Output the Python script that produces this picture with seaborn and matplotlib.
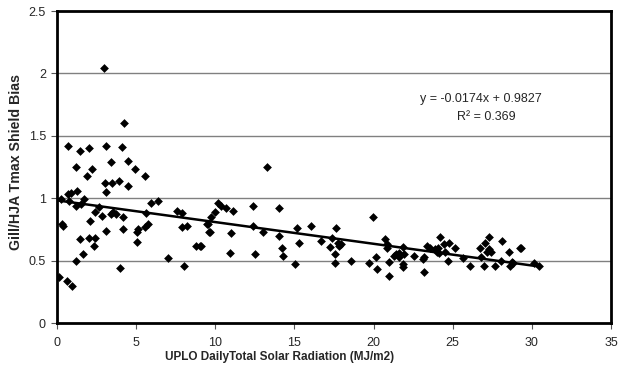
import matplotlib
matplotlib.use("Agg")
import matplotlib.pyplot as plt
import seaborn as sns
import numpy as np
import pandas as pd

# Data
solar = [
    2.99, 4.23, 0.70, 1.45, 2.02, 3.07, 4.10, 1.20, 3.43, 4.46, 2.19, 1.92, 4.95, 5.56,
    3.03, 3.50, 3.94, 4.48, 3.11, 0.67, 0.90, 1.24, 0.27, 0.78, 1.20, 1.54, 1.73, 5.94,
    6.36, 2.42, 2.65, 2.84, 3.41, 3.56, 3.75, 4.17, 5.64, 0.34, 0.40, 2.10, 5.73, 5.54,
    5.14, 5.03, 3.10, 4.17, 7.58, 7.90, 7.87, 8.21, 1.43, 2.02, 2.40, 2.31, 5.05, 1.62,
    1.20, 8.78, 9.08, 7.03, 8.00, 3.96, 0.10, 0.65, 0.95, 9.50, 9.60,
    13.25, 10.19, 10.36, 10.66, 9.98, 11.14, 12.40, 14.02, 9.73, 9.56, 9.64, 9.03, 11.01,
    12.40, 13.03, 14.02, 14.23, 14.30, 10.95, 12.53, 15.18, 15.30, 15.01, 16.05, 16.70,
    17.64, 17.39, 17.27, 17.73, 17.83, 17.94, 17.56, 17.58, 18.60,
    19.94, 19.71, 20.13, 20.19, 20.74, 20.83, 20.83, 20.95, 20.99, 21.27, 21.39, 21.62,
    21.60, 21.84, 21.88, 21.88, 21.92, 22.55, 23.10, 23.18, 23.18, 23.39, 23.56, 23.88,
    24.02, 24.15, 24.09, 24.21, 24.45, 24.74, 24.53, 24.68, 25.14, 25.67, 26.09, 26.70,
    27.02, 27.31, 26.78, 26.97, 27.18, 27.31, 27.42, 27.65, 28.13, 28.05, 28.53, 28.74,
    28.64, 28.83, 29.25, 29.33, 30.13, 30.47,
]
bias = [
    2.04, 1.60, 1.42, 1.38, 1.40, 1.42, 1.41, 1.25, 1.29, 1.30, 1.23, 1.18, 1.23, 1.18,
    1.12, 1.12, 1.14, 1.10, 1.05, 1.03, 1.04, 1.06, 0.99, 0.98, 0.94, 0.95, 0.99, 0.96,
    0.98, 0.89, 0.93, 0.86, 0.87, 0.89, 0.87, 0.85, 0.88, 0.79, 0.78, 0.82, 0.79, 0.77,
    0.75, 0.73, 0.74, 0.75, 0.90, 0.88, 0.77, 0.78, 0.67, 0.68, 0.68, 0.62, 0.65, 0.55,
    0.50, 0.62, 0.62, 0.52, 0.46, 0.44, 0.37, 0.34, 0.30, 0.79, 0.73,
    1.25, 0.96, 0.94, 0.92, 0.89, 0.90, 0.94, 0.92, 0.85, 0.79, 0.73, 0.62, 0.72,
    0.78, 0.73, 0.70, 0.60, 0.54, 0.56, 0.55, 0.76, 0.64, 0.47, 0.78, 0.66,
    0.76, 0.68, 0.61, 0.64, 0.62, 0.63, 0.55, 0.48, 0.50,
    0.85, 0.48, 0.53, 0.43, 0.67, 0.63, 0.60, 0.38, 0.49, 0.54, 0.55, 0.56,
    0.53, 0.61, 0.47, 0.45, 0.55, 0.54, 0.51, 0.53, 0.41, 0.62, 0.60, 0.59,
    0.57, 0.56, 0.60, 0.69, 0.63, 0.64, 0.57, 0.50, 0.60, 0.52, 0.46, 0.60,
    0.64, 0.69, 0.53, 0.46, 0.57, 0.59, 0.57, 0.46, 0.66, 0.50, 0.57, 0.49,
    0.46, 0.48, 0.60, 0.60, 0.48, 0.46,
]
slope = -0.0174
intercept = 0.9827
r_squared = 0.369
x_ticks = [0, 5, 10, 15, 20, 25, 30, 35]
y_ticks = [0, 0.5, 1, 1.5, 2, 2.5]
x_label = "UPLO DailyTotal Solar Radiation (MJ/m2)"
y_label = "Gill/HJA Tmax Shield Bias"

sns.set_style("white")
plt.rcParams['font.family'] = ['Liberation Sans', 'DejaVu Sans']

df = pd.DataFrame({"solar": solar, "bias": bias})

fig = plt.figure(figsize=(6.25, 3.77), dpi=100)
ax = fig.add_axes([57 / 625, 54 / 377, (611 - 57) / 625, (323 - 11) / 377])

for yv in y_ticks[1:-1]:
    ax.axhline(yv, color="#808080", linewidth=1.0, zorder=0)

sns.scatterplot(data=df, x="solar", y="bias", marker="D", s=20, color="black",
                edgecolor="black", linewidth=0, ax=ax, zorder=3)

xl = np.array([min(solar), max(solar)])
sns.lineplot(x=xl, y=slope * xl + intercept, color="black", linewidth=1.8, ax=ax, zorder=4)

ax.set_xlim(0, 35)
ax.set_ylim(0, 2.5)
ax.set_xticks(x_ticks)
ax.set_yticks(y_ticks)
ax.set_xticklabels([str(v) for v in x_ticks])
ax.set_yticklabels([f"{v:g}" for v in y_ticks])
ax.tick_params(axis="both", which="both", direction="out", length=4, width=0.8,
               color="#555555", labelsize=9, bottom=True, left=True, pad=4)
ax.tick_params(axis="x", pad=6)

for sp in ax.spines.values():
    sp.set_visible(True)
    sp.set_color("black")
    sp.set_linewidth(2.0)

ax.set_xlabel(x_label, fontsize=8.5, fontweight="bold")
ax.set_ylabel(y_label, fontsize=10.2, fontweight="bold")
ax.xaxis.set_label_coords(0.402, -0.09)
ax.yaxis.set_label_coords(-0.062, 0.516)

ax.text(26.8, 1.795, f"y = {slope}x + {intercept}", ha="center", va="center", fontsize=9)
ax.text(27.1, 1.65, f"R² = {r_squared}", ha="center", va="center", fontsize=9)

fig.savefig("out.png", dpi=100)
